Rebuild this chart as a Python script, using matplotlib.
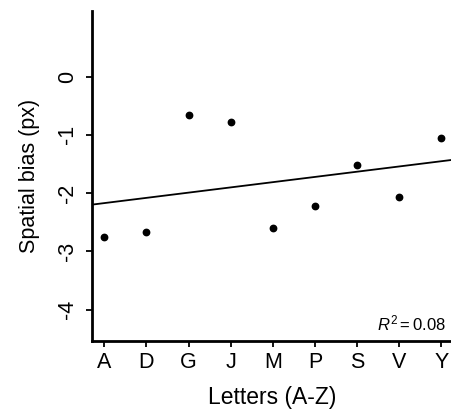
import numpy as np
import matplotlib
matplotlib.use("Agg")
import matplotlib.pyplot as plt

plt.rcParams['font.family'] = ['Liberation Sans', 'DejaVu Sans']
plt.rcParams['mathtext.fontset'] = 'custom'
plt.rcParams['mathtext.rm'] = 'Liberation Sans'
plt.rcParams['mathtext.it'] = 'Liberation Sans:italic'

# letters on x axis and their position in the alphabet
letters = ["A", "D", "G", "J", "M", "P", "S", "V", "Y"]
letter_pos = [1, 4, 7, 10, 13, 16, 19, 22, 25]
# spatial bias per letter (px)
bias = [-2.75, -2.66, -0.65, -0.785, -2.60, -2.22, -1.52, -2.07, -1.05]
y_ticks = [0, -1, -2, -3, -4]

fig = plt.figure(figsize=(4.52, 4.09), dpi=100)
ax = fig.add_axes([0.2035, 0.1663, 0.7965, 0.807])

ax.plot(letter_pos, bias, 'o', color='black', markersize=4.6, zorder=3)

# linear fit across the whole panel
xlim = (0.124, 25.76)
slope, intercept = np.polyfit(letter_pos, bias, 1)
xs = np.array(xlim)
ax.plot(xs, intercept + slope * xs, color='black', linewidth=1.3)

ax.set_xlim(*xlim)
ax.set_ylim(-4.54, 1.13)
ax.set_xticks(letter_pos)
ax.set_xticklabels(letters)
ax.set_yticks(y_ticks)
ax.set_yticklabels([str(t) for t in y_ticks], rotation=90, va='center')

for s in ['top', 'right']:
    ax.spines[s].set_visible(False)
for s in ['left', 'bottom']:
    ax.spines[s].set_linewidth(2)
ax.tick_params(axis='both', direction='out', length=4, width=1.3, labelsize=15.5)
ax.tick_params(axis='x', pad=4)
ax.tick_params(axis='y', pad=6)

ax.set_xlabel("Letters (A-Z)", fontsize=16.5, labelpad=9)
ax.set_ylabel("Spatial bias (px)", fontsize=15.5, labelpad=12)

ax.text(0.983, 0.022, r"$\mathit{R}^{2} = \mathrm{0.08}$", transform=ax.transAxes,
        ha='right', va='bottom', fontsize=12)

fig.savefig("out.png", dpi=100)
